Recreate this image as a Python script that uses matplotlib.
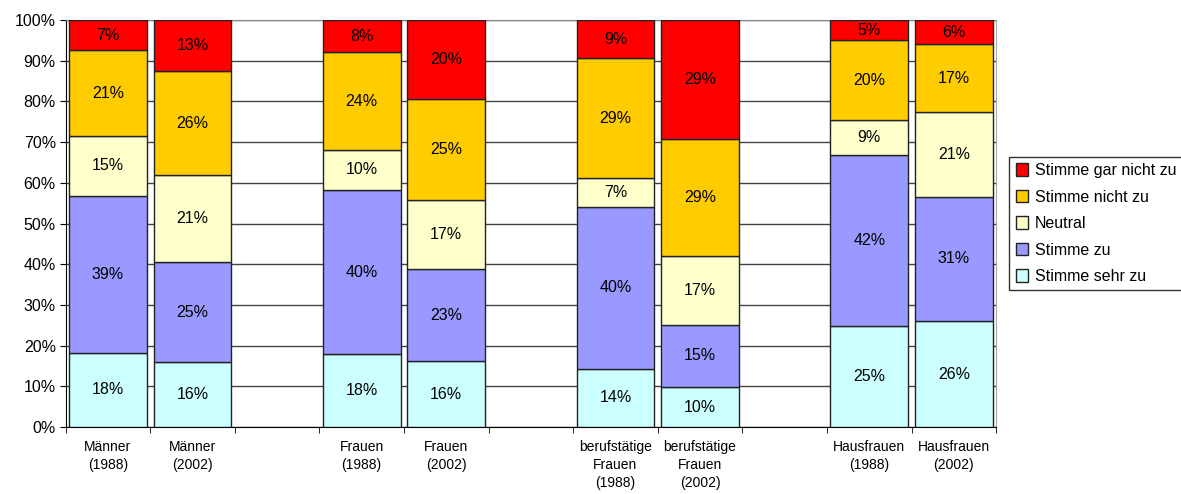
import numpy as np
import matplotlib.pyplot as plt

categories = ['Männer\n(1988)', 'Männer\n(2002)', 'Frauen\n(1988)', 'Frauen\n(2002)',
              'berufstätige\nFrauen\n(1988)', 'berufstätige\nFrauen\n(2002)',
              'Hausfrauen\n(1988)', 'Hausfrauen\n(2002)']
slots = [0, 1, 3, 4, 6, 7, 9, 10]

series = ['Stimme sehr zu', 'Stimme zu', 'Neutral', 'Stimme nicht zu', 'Stimme gar nicht zu']
sehr_zu = [18.2, 15.9, 17.9, 16.2, 14.3, 9.8, 24.8, 26.0]
zu = [38.6, 24.6, 40.3, 22.6, 39.8, 15.3, 42.0, 30.6]
neutral = [14.7, 21.3, 9.9, 16.9, 7.1, 16.9, 8.6, 20.8]
nicht_zu = [21.1, 25.6, 24.0, 24.8, 29.4, 28.8, 19.6, 16.6]
gar_nicht_zu = [7.4, 12.6, 7.9, 19.5, 9.4, 29.2, 5.0, 6.0]
colors = ['#CCFFFF', '#9999FF', '#FFFFCC', '#FFCC00', '#FF0000']

values = [sehr_zu, zu, neutral, nicht_zu, gar_nicht_zu]

plt.rcParams['font.family'] = ['Liberation Sans', 'DejaVu Sans']
fig = plt.figure(figsize=(11.81, 4.94), dpi=100)
ax = fig.add_axes([0.0555, 0.1356, 0.788, 0.8239])

bottom = np.zeros(len(slots))
handles = []
for name, vals, col in zip(series, values, colors):
    vals = np.array(vals)
    bars = ax.bar(slots, vals, width=0.92, bottom=bottom, color=col,
                  edgecolor='#222222', linewidth=1, label=name, zorder=3)
    handles.append(bars)
    for x, b, v in zip(slots, bottom, vals):
        ax.text(x, b + v / 2, '%.0f%%' % v, ha='center', va='center',
                fontsize=11.5, zorder=4)
    bottom += vals

ax.set_xlim(-0.5, 10.5)
ax.set_ylim(0, 100)
ax.set_yticks(np.arange(0, 101, 10))
ax.set_yticklabels(['%d%%' % v for v in range(0, 101, 10)], fontsize=11.5)
ax.yaxis.grid(True, color='#444444', linewidth=1, zorder=0)
ax.set_axisbelow(True)

ax.set_xticks(slots)
ax.set_xticklabels(categories, fontsize=10, linespacing=1.4)
ax.tick_params(axis='x', which='major', length=0, pad=9)
ax.set_xticks(np.arange(-0.5, 11, 1), minor=True)
ax.tick_params(axis='x', which='minor', length=4, color='black')
ax.tick_params(axis='y', length=4, pad=3)

ax.spines['top'].set_color('#888888')
ax.spines['right'].set_color('#AAAAAA')
ax.spines['left'].set_color('black')
ax.spines['bottom'].set_color('black')

leg = ax.legend(handles[::-1], series[::-1], loc='center left',
                bbox_to_anchor=(1.014, 0.5), frameon=True,
                fancybox=False, edgecolor='black', handlelength=0.8,
                handleheight=0.8, handletextpad=0.4, borderpad=0.4,
                labelspacing=0.72, borderaxespad=0,
                prop={'size': 11.5})
leg.get_frame().set_linewidth(1)

fig.savefig('out.png', dpi=100)
